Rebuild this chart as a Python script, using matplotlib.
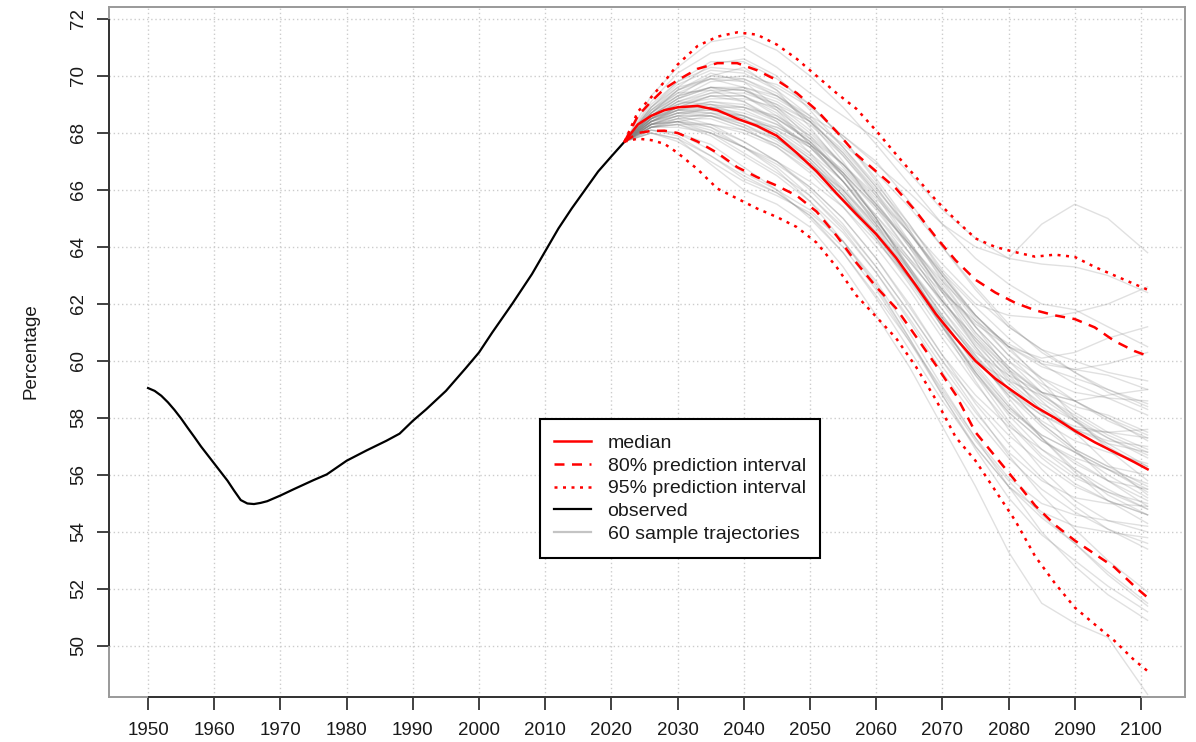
import matplotlib
matplotlib.use("Agg")
import matplotlib.pyplot as plt
from matplotlib.lines import Line2D

# ---------------- data ----------------
obs_years = [1950, 1951, 1952, 1953, 1954, 1955, 1956, 1957, 1958, 1959, 1960, 1961,
             1962, 1963, 1964, 1965, 1966, 1967, 1968, 1970, 1972, 1975, 1977, 1980,
             1983, 1986, 1988, 1990, 1992, 1995, 1998, 2000, 2002, 2005, 2008, 2010,
             2012, 2014, 2016, 2018, 2020, 2022]
obs_values = [59.05, 58.95, 58.78, 58.55, 58.28, 57.98, 57.65, 57.33, 57.0, 56.7, 56.4, 56.1,
              55.8, 55.45, 55.12, 55.0, 54.98, 55.02, 55.08, 55.28, 55.5, 55.82, 56.02, 56.5,
              56.86, 57.2, 57.45, 57.9, 58.3, 58.95, 59.75, 60.3, 61.0, 62.0, 63.05, 63.85,
              64.65, 65.35, 66.0, 66.65, 67.18, 67.7]

proj_years = [2022, 2024, 2026, 2028, 2030, 2033, 2036, 2039, 2042, 2045, 2048, 2051,
              2054, 2057, 2060, 2063, 2066, 2069, 2072, 2075, 2078, 2081, 2084, 2087,
              2090, 2093, 2096, 2099, 2101]
median = [67.7, 68.3, 68.6, 68.8, 68.9, 68.95, 68.8, 68.5, 68.25, 67.9, 67.3, 66.65,
          65.88, 65.15, 64.45, 63.62, 62.65, 61.65, 60.8, 60.0, 59.38, 58.88, 58.4, 58.0,
          57.55, 57.15, 56.8, 56.45, 56.2]
upper80 = [67.7, 68.6, 69.1, 69.55, 69.85, 70.25, 70.45, 70.45, 70.2, 69.85, 69.4, 68.8,
           68.05, 67.25, 66.65, 66.05, 65.25, 64.35, 63.53, 62.85, 62.4, 62.04, 61.78, 61.6,
           61.47, 61.18, 60.7, 60.35, 60.18]
lower80 = [67.7, 68.0, 68.07, 68.08, 68.0, 67.7, 67.3, 66.8, 66.45, 66.15, 65.8, 65.24,
           64.4, 63.45, 62.6, 61.85, 60.86, 59.86, 58.82, 57.5, 56.65, 55.8, 54.93, 54.25,
           53.7, 53.23, 52.76, 52.1, 51.7]
upper95 = [67.7, 68.75, 69.25, 69.8, 70.4, 71.05, 71.38, 71.53, 71.45, 71.1, 70.6, 70.0,
           69.4, 68.85, 68.08, 67.25, 66.45, 65.65, 64.95, 64.3, 64.0, 63.82, 63.66, 63.73,
           63.65, 63.3, 63.0, 62.7, 62.5]
lower95 = [67.7, 67.8, 67.75, 67.62, 67.3, 66.73, 66.05, 65.7, 65.35, 65.05, 64.7, 64.15,
           63.3, 62.3, 61.55, 60.8, 59.8, 58.65, 57.33, 56.5, 55.45, 54.4, 53.15, 52.2,
           51.35, 50.76, 50.18, 49.5, 49.12]

traj_years = [2022, 2026, 2030, 2035, 2040, 2045, 2050, 2055, 2060, 2065, 2070, 2075,
              2080, 2085, 2090, 2095, 2101]
trajectories = [
    [67.7, 69.0, 69.8, 70.3, 70.2, 69.6, 68.9, 67.9, 66.9, 65.9, 64.8, 64.0, 63.6, 64.8, 65.5, 65.0, 63.8],
    [67.7, 69.3, 70.3, 71.2, 71.4, 70.9, 70.0, 68.9, 67.6, 66.2, 64.8, 63.6, 62.7, 62.0, 61.8, 61.2, 60.5],
    [67.7, 69.1, 70.1, 70.8, 71.0, 70.3, 69.4, 68.6, 67.8, 66.6, 65.3, 64.3, 63.6, 63.4, 63.3, 63.0, 62.4],
    [67.7, 68.9, 69.6, 70.4, 70.6, 70.0, 68.8, 67.5, 66.2, 64.8, 63.2, 62.0, 61.6, 61.5, 61.7, 62.0, 62.6],
    [67.7, 68.8, 69.5, 69.9, 69.8, 69.3, 68.6, 67.9, 67.0, 65.6, 64.0, 62.5, 61.2, 60.4, 60.0, 59.6, 59.3],
    [67.7, 68.7, 69.3, 70.0, 70.3, 69.5, 68.2, 66.8, 65.5, 64.2, 62.6, 61.0, 59.8, 58.9, 58.4, 58.1, 57.5],
    [67.7, 68.6, 69.0, 69.4, 69.6, 69.3, 68.5, 67.2, 65.8, 64.1, 62.4, 60.9, 59.7, 58.9, 58.6, 58.8, 59.0],
    [67.7, 68.5, 68.9, 69.0, 68.8, 68.3, 67.6, 66.6, 65.3, 63.8, 62.1, 60.7, 59.6, 58.7, 57.9, 57.1, 56.3],
    [67.7, 68.4, 68.7, 68.6, 68.2, 67.8, 67.0, 65.8, 64.4, 62.9, 61.3, 60.0, 59.3, 58.8, 58.1, 57.4, 56.8],
    [67.7, 68.3, 68.4, 68.0, 67.3, 66.6, 65.8, 64.7, 63.3, 61.7, 60.0, 58.6, 57.4, 56.4, 55.6, 55.1, 54.6],
    [67.7, 68.1, 67.9, 67.2, 66.4, 65.9, 65.1, 63.8, 62.2, 60.4, 58.6, 57.0, 55.6, 54.5, 53.6, 52.6, 51.5],
    [67.7, 68.0, 67.8, 66.9, 66.0, 65.5, 64.7, 63.3, 61.6, 59.8, 57.7, 55.6, 53.3, 51.5, 50.8, 50.3, 48.3],
    [67.7, 68.6, 69.2, 69.6, 69.5, 68.9, 68.0, 66.9, 65.6, 64.0, 62.2, 60.5, 59.0, 57.8, 56.9, 56.3, 55.6],
    [67.7, 68.5, 68.8, 68.7, 68.4, 68.2, 67.6, 66.6, 65.4, 64.1, 62.8, 61.6, 60.5, 59.3, 58.0, 56.9, 55.8],
    [67.7, 68.4, 68.9, 69.3, 69.1, 68.4, 67.3, 66.0, 64.6, 63.0, 61.5, 60.3, 59.5, 58.9, 58.6, 58.0, 57.2],
    [67.7, 68.7, 69.5, 70.1, 69.8, 68.9, 67.8, 66.5, 65.0, 63.3, 61.6, 60.1, 58.8, 57.9, 57.2, 56.8, 56.4],
    [67.7, 68.3, 68.6, 68.9, 68.9, 68.6, 67.9, 66.9, 65.7, 64.5, 63.1, 61.9, 60.8, 59.9, 59.2, 58.7, 58.1],
    [67.7, 68.2, 68.3, 68.0, 67.5, 66.9, 66.1, 65.0, 63.6, 61.9, 60.2, 58.8, 57.7, 56.9, 56.2, 55.5, 54.8],
    [67.7, 68.5, 69.1, 69.0, 68.6, 68.1, 67.5, 66.5, 65.0, 63.2, 61.3, 59.5, 57.9, 56.7, 55.9, 55.4, 54.8],
    [67.7, 68.8, 69.6, 69.9, 69.6, 68.8, 67.6, 66.3, 64.9, 63.6, 62.4, 61.4, 60.6, 60.0, 59.7, 59.5, 59.0],
    [67.7, 68.4, 68.6, 68.3, 67.7, 67.0, 66.1, 65.0, 63.6, 62.0, 60.2, 58.5, 57.1, 55.9, 54.9, 54.1, 53.4],
    [67.7, 68.0, 67.7, 67.0, 66.3, 65.8, 65.2, 64.2, 62.8, 61.0, 59.1, 57.3, 55.9, 55.0, 54.6, 54.4, 54.2],
    [67.7, 68.6, 69.0, 69.2, 69.2, 68.9, 68.3, 67.2, 65.9, 64.5, 63.0, 61.5, 60.2, 59.1, 58.2, 57.5, 56.9],
    [67.7, 68.3, 68.4, 68.3, 68.0, 67.5, 66.7, 65.6, 64.3, 62.8, 61.2, 59.6, 58.2, 57.2, 56.6, 56.2, 55.5],
    [67.7, 68.9, 69.8, 70.5, 70.5, 69.9, 69.0, 67.8, 66.4, 64.8, 63.1, 61.6, 60.5, 59.9, 59.7, 59.9, 60.3],
    [67.7, 68.4, 68.8, 69.1, 69.0, 68.5, 67.7, 66.5, 65.0, 63.3, 61.5, 59.8, 58.4, 57.4, 56.8, 56.2, 55.4],
    [67.7, 68.2, 68.4, 68.6, 68.4, 67.9, 67.1, 66.0, 64.7, 63.3, 61.8, 60.2, 58.7, 57.3, 56.1, 55.1, 54.3],
    [67.7, 68.6, 69.2, 69.8, 69.9, 69.4, 68.4, 67.0, 65.4, 63.8, 62.1, 60.6, 59.4, 58.5, 57.9, 57.3, 56.6],
    [67.7, 68.3, 68.5, 68.5, 68.1, 67.6, 66.9, 66.0, 64.8, 63.5, 62.1, 60.8, 59.7, 58.6, 57.5, 56.4, 55.3],
    [67.7, 68.1, 68.0, 67.4, 66.6, 66.0, 65.3, 64.2, 62.7, 60.8, 58.8, 56.9, 55.2, 53.9, 53.0, 52.1, 51.2],
    [67.7, 68.7, 69.4, 69.9, 70.0, 69.7, 69.0, 67.8, 66.3, 64.6, 62.8, 61.2, 60.0, 59.2, 58.6, 58.0, 57.4],
    [67.7, 68.4, 68.7, 68.8, 68.5, 68.0, 67.2, 66.1, 64.7, 63.0, 61.2, 59.6, 58.3, 57.4, 56.8, 56.2, 55.7],
    [67.7, 68.5, 68.9, 68.9, 68.5, 67.8, 66.9, 65.8, 64.5, 63.0, 61.4, 59.9, 58.5, 57.3, 56.2, 55.3, 54.6],
    [67.7, 68.2, 68.5, 68.7, 68.6, 68.1, 67.3, 66.3, 65.1, 63.8, 62.5, 61.2, 60.0, 58.9, 57.9, 57.0, 56.2],
    [67.7, 68.6, 69.3, 69.6, 69.3, 68.6, 67.7, 66.5, 65.1, 63.6, 62.0, 60.5, 59.2, 58.2, 57.7, 57.5, 57.3],
    [67.7, 68.3, 68.5, 68.2, 67.5, 66.7, 65.6, 64.2, 62.6, 60.8, 58.9, 57.2, 55.8, 54.6, 53.6, 52.5, 51.4],
    [67.7, 68.8, 69.4, 69.5, 69.1, 68.5, 67.8, 66.9, 65.8, 64.5, 63.0, 61.6, 60.4, 59.4, 58.6, 57.9, 57.3],
    [67.7, 68.2, 68.2, 68.0, 67.5, 67.0, 66.3, 65.4, 64.2, 62.9, 61.5, 60.2, 59.0, 58.1, 57.6, 57.5, 57.6],
    [67.7, 68.5, 69.0, 69.3, 69.3, 68.8, 67.9, 66.6, 65.0, 63.2, 61.3, 59.6, 58.1, 56.9, 56.0, 55.4, 55.0],
    [67.7, 68.4, 68.8, 69.0, 68.9, 68.5, 67.7, 66.6, 65.4, 64.1, 62.7, 61.2, 59.7, 58.2, 56.9, 55.8, 54.9],
    [67.7, 68.1, 68.0, 67.6, 66.8, 66.0, 65.0, 63.8, 62.3, 60.7, 59.0, 57.3, 55.6, 54.0, 52.8, 51.8, 50.9],
    [67.7, 68.6, 69.1, 69.4, 69.4, 69.0, 68.4, 67.4, 66.1, 64.6, 63.0, 61.6, 60.5, 59.8, 59.4, 59.0, 58.5],
    [67.7, 68.3, 68.7, 68.7, 68.3, 67.7, 66.9, 65.8, 64.4, 62.9, 61.4, 60.0, 58.9, 58.1, 57.5, 56.9, 56.3],
    [67.7, 68.7, 69.5, 70.0, 69.9, 69.3, 68.4, 67.3, 66.0, 64.7, 63.4, 62.2, 61.2, 60.4, 59.6, 58.9, 58.3],
    [67.7, 68.2, 68.3, 67.9, 67.2, 66.5, 65.6, 64.5, 63.1, 61.5, 59.8, 58.2, 56.8, 55.8, 55.2, 55.0, 54.9],
    [67.7, 68.4, 68.9, 69.3, 69.3, 68.7, 67.6, 66.3, 64.8, 63.2, 61.6, 60.1, 58.8, 57.7, 56.8, 56.0, 55.2],
    [67.7, 68.5, 68.8, 68.8, 68.6, 68.2, 67.6, 66.7, 65.5, 64.1, 62.5, 61.0, 59.8, 58.8, 58.0, 57.3, 56.7],
    [67.7, 68.3, 68.6, 68.6, 68.2, 67.5, 66.6, 65.4, 64.0, 62.5, 60.8, 59.2, 57.8, 56.6, 55.7, 55.1, 54.6],
    [67.7, 68.9, 69.7, 70.2, 70.1, 69.5, 68.6, 67.5, 66.1, 64.5, 62.9, 61.4, 60.2, 59.4, 58.9, 58.7, 58.6],
    [67.7, 68.4, 68.7, 68.9, 68.7, 68.3, 67.5, 66.3, 64.8, 63.1, 61.2, 59.3, 57.6, 56.2, 55.1, 54.4, 54.0],
    [67.7, 68.2, 68.3, 68.3, 68.1, 67.6, 66.8, 65.7, 64.5, 63.2, 61.8, 60.4, 59.0, 57.8, 56.9, 56.3, 56.0],
    [67.7, 68.6, 69.2, 69.6, 69.6, 69.2, 68.5, 67.6, 66.6, 65.4, 64.0, 62.6, 61.3, 60.3, 59.6, 59.0, 58.4],
    [67.7, 68.3, 68.6, 68.6, 68.3, 67.8, 67.0, 65.8, 64.3, 62.7, 61.0, 59.5, 58.2, 57.2, 56.5, 55.8, 55.1],
    [67.7, 68.0, 67.8, 67.2, 66.5, 65.9, 65.1, 64.0, 62.5, 60.7, 58.8, 57.0, 55.6, 54.7, 54.2, 54.0, 53.8],
    [67.7, 68.5, 69.1, 69.5, 69.5, 69.1, 68.4, 67.3, 65.9, 64.2, 62.4, 60.7, 59.3, 58.3, 57.6, 57.1, 56.8],
    [67.7, 68.4, 68.8, 68.9, 68.6, 68.0, 67.1, 65.9, 64.5, 62.9, 61.2, 59.7, 58.4, 57.3, 56.4, 55.8, 55.5],
    [67.7, 68.7, 69.3, 69.6, 69.5, 69.0, 68.1, 66.9, 65.5, 64.0, 62.5, 61.3, 60.5, 60.1, 60.3, 60.8, 61.2],
    [67.7, 68.2, 68.4, 68.2, 67.7, 67.0, 66.0, 64.8, 63.3, 61.7, 60.0, 58.3, 56.7, 55.3, 54.1, 53.0, 51.9],
    [67.7, 68.5, 68.9, 69.1, 68.9, 68.4, 67.5, 66.3, 64.9, 63.5, 62.1, 60.8, 59.5, 58.4, 57.6, 57.2, 57.0],
    [67.7, 68.3, 68.4, 68.1, 67.5, 66.8, 65.8, 64.6, 63.1, 61.4, 59.6, 58.0, 56.6, 55.5, 54.7, 54.1, 53.6],
]

x_ticks = list(range(1950, 2101, 10))
y_ticks = list(range(50, 73, 2))
y_label = "Percentage"
legend_labels = ["median", "80% prediction interval", "95% prediction interval",
                 "observed", "60 sample trajectories"]

# ---------------- figure ----------------
plt.rcParams['font.family'] = ['Liberation Sans', 'DejaVu Sans']
W, H = 1196, 742
fig = plt.figure(figsize=(W / 100, H / 100), dpi=100)
ax = fig.add_axes([109 / W, 1 - 697 / H, (1185 - 109) / W, (697 - 7) / H])
XL = (1944.1, 2106.65)
YL = (48.21, 72.42)
ax.set_xlim(*XL)
ax.set_ylim(*YL)

# grid
for xv in x_ticks:
    ax.axvline(xv, color='#cccccc', lw=1.0, linestyle=(0, (1, 2)), zorder=0)
for yv in y_ticks:
    ax.axhline(yv, color='#cccccc', lw=1.0, linestyle=(0, (1, 2)), zorder=0)

# trajectories
for tr in trajectories:
    ax.plot(traj_years, tr, color='#808080', alpha=0.24, lw=1.0, zorder=1)

red = '#ff0000'
ax.plot(obs_years, obs_values, color='black', lw=1.6, zorder=3)
ax.plot(proj_years, upper95, color=red, lw=1.8, linestyle=(0, (1.2, 2.2)), zorder=4)
ax.plot(proj_years, lower95, color=red, lw=1.8, linestyle=(0, (1.2, 2.2)), zorder=4)
ax.plot(proj_years, upper80, color=red, lw=1.8, linestyle=(0, (4, 3)), zorder=4)
ax.plot(proj_years, lower80, color=red, lw=1.8, linestyle=(0, (4, 3)), zorder=4)
ax.plot(proj_years, median, color=red, lw=1.8, zorder=5)

# axes styling (R-like)
for s in ax.spines.values():
    s.set_color('#999999')
    s.set_linewidth(1.4)
ax.set_xticks(x_ticks)
ax.set_yticks(y_ticks)
ax.set_xticklabels([str(v) for v in x_ticks])
ax.set_yticklabels([str(v) for v in y_ticks])
ax.tick_params(axis='both', direction='out', length=9, width=1.3, color='#333333',
               labelsize=13.5, labelcolor='#1a1a1a')
ax.tick_params(axis='x', pad=9)
ax.tick_params(axis='y', pad=7)
for lab in ax.get_yticklabels():
    lab.set_rotation(90)
    lab.set_va('center')
# axis lines spanning first to last tick
ax.plot([x_ticks[0], x_ticks[-1]], [YL[0], YL[0]], color='#333333', lw=1.4,
        clip_on=False, zorder=6, solid_capstyle='butt')
ax.plot([XL[0], XL[0]], [y_ticks[0], y_ticks[-1]], color='#333333', lw=1.4,
        clip_on=False, zorder=6, solid_capstyle='butt')

fig.text(31 / W, 1 - 351 / H, y_label, rotation=90, va='center', ha='center',
         fontsize=13.5, color='#1a1a1a')

# legend
handles = [
    Line2D([], [], color=red, lw=1.8),
    Line2D([], [], color=red, lw=1.8, linestyle=(0, (4, 3))),
    Line2D([], [], color=red, lw=1.8, linestyle=(0, (1.2, 2.2))),
    Line2D([], [], color='black', lw=1.6),
    Line2D([], [], color='#c4c4c4', lw=1.6),
]
leg = ax.legend(handles, legend_labels, loc='upper left',
                bbox_to_anchor=(539.5 / W, 1 - 419.5 / H), bbox_transform=fig.transFigure,
                fontsize=14, frameon=True, fancybox=False, edgecolor='black',
                framealpha=1, borderpad=0.75, labelspacing=0.27, handlelength=1.9,
                handletextpad=0.85, borderaxespad=0)
leg.get_frame().set_linewidth(1.5)
for t in leg.get_texts():
    t.set_color('#1a1a1a')
leg.set_zorder(10)

fig.savefig('out.png', dpi=100)
